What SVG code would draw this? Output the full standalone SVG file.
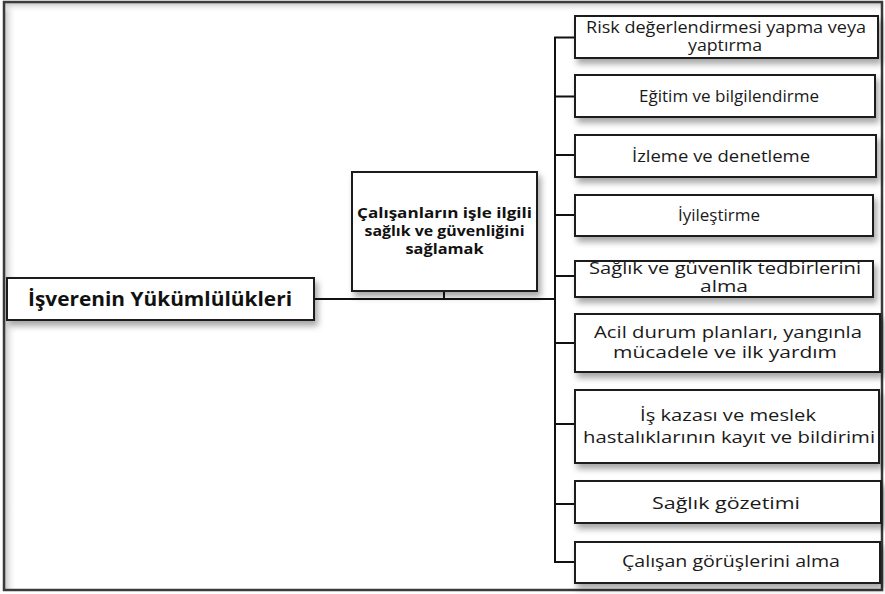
<svg xmlns="http://www.w3.org/2000/svg" width="885" height="594" viewBox="0 0 885 594">
<defs>
<filter id="sh" x="-10%" y="-20%" width="130%" height="160%">
<feDropShadow dx="3" dy="5" stdDeviation="3" flood-color="#000" flood-opacity="0.35"/>
</filter>
<linearGradient id="gl" x1="0" y1="0" x2="1" y2="0">
<stop offset="0" stop-color="#c8c8c8"/><stop offset="1" stop-color="#fff" stop-opacity="0"/>
</linearGradient>
<linearGradient id="gt" x1="0" y1="0" x2="0" y2="1">
<stop offset="0" stop-color="#c8c8c8"/><stop offset="1" stop-color="#fff" stop-opacity="0"/>
</linearGradient>
<style>
.box{fill:#fff;stroke:#1a1a1a;stroke-width:2;filter:url(#sh)}
.t{font-family:"Open Sans","Liberation Sans",sans-serif;font-size:16px;fill:#1a1a1a;text-anchor:middle}
.b{font-family:"Open Sans","Liberation Sans",sans-serif;font-weight:bold;fill:#111;text-anchor:middle}
.c{stroke:#111;stroke-width:2;fill:none}
</style>
</defs>
<rect x="0" y="0" width="885" height="594" fill="#fff"/>
<g id="frame">
<rect x="5" y="3" width="12" height="586" fill="url(#gl)"/>
<rect x="5" y="3" width="876" height="10" fill="url(#gt)"/>
<rect x="4" y="2" width="878" height="588" fill="none" stroke="#3a3a3a" stroke-width="2.5"/>
</g>
<g id="connectors">
<line class="c" x1="314" y1="299" x2="555" y2="299"/>
<line class="c" x1="444" y1="291" x2="444" y2="299"/>
<line class="c" x1="555" y1="37.5" x2="555" y2="562"/>
<line class="c" x1="554" y1="37.5" x2="575" y2="37.5"/>
<line class="c" x1="555" y1="96.5" x2="575" y2="96.5"/>
<line class="c" x1="555" y1="155" x2="575" y2="155"/>
<line class="c" x1="555" y1="215" x2="575" y2="215"/>
<line class="c" x1="555" y1="276" x2="575" y2="276"/>
<line class="c" x1="555" y1="343" x2="575" y2="343"/>
<line class="c" x1="555" y1="424" x2="575" y2="424"/>
<line class="c" x1="555" y1="504" x2="575" y2="504"/>
<line class="c" x1="554" y1="562" x2="575" y2="562"/>
</g>
<g id="root">
<rect class="box" x="7" y="278" width="307" height="42"/>
<text class="b" x="160" y="306" font-size="19" textLength="264" lengthAdjust="spacingAndGlyphs">İşverenin Yükümlülükleri</text>
</g>
<g id="mid">
<rect class="box" x="352" y="172" width="185" height="119"/>
<text class="b" font-size="15" x="444.5" y="218" textLength="175" lengthAdjust="spacingAndGlyphs">Çalışanların işle ilgili</text>
<text class="b" font-size="15" x="444.5" y="236" textLength="160" lengthAdjust="spacingAndGlyphs">sağlık ve güvenliğini</text>
<text class="b" font-size="15" x="444.5" y="254" textLength="78" lengthAdjust="spacingAndGlyphs">sağlamak</text>
</g>
<g id="n1">
<rect class="box" x="575" y="16" width="303" height="42"/>
<text class="t" x="726" y="33" textLength="280" lengthAdjust="spacingAndGlyphs">Risk değerlendirmesi yapma veya</text>
<text class="t" x="725" y="51" textLength="74" lengthAdjust="spacingAndGlyphs">yaptırma</text>
</g>
<g id="n2">
<rect class="box" x="575" y="75" width="300" height="42"/>
<text class="t" font-size="17" x="729" y="102" textLength="180" lengthAdjust="spacingAndGlyphs">Eğitim ve bilgilendirme</text>
</g>
<g id="n3">
<rect class="box" x="575" y="135" width="301" height="42"/>
<text class="t" font-size="17" x="721" y="162" textLength="178" lengthAdjust="spacingAndGlyphs">İzleme ve denetleme</text>
</g>
<g id="n4">
<rect class="box" x="575" y="195" width="298" height="41"/>
<text class="t" font-size="17" x="719" y="221" textLength="82" lengthAdjust="spacingAndGlyphs">İyileştirme</text>
</g>
<g id="n5">
<rect class="box" x="575" y="261" width="298" height="36"/>
<text class="t" x="725" y="274" textLength="272" lengthAdjust="spacingAndGlyphs">Sağlık ve  güvenlik tedbirlerini</text>
<text class="t" x="724" y="292" textLength="48" lengthAdjust="spacingAndGlyphs">alma</text>
</g>
<g id="n6">
<rect class="box" x="575" y="314" width="305" height="58"/>
<text class="t" font-size="17" x="728" y="338" textLength="268" lengthAdjust="spacingAndGlyphs">Acil durum planları, yangınla</text>
<text class="t" font-size="17" x="725" y="358" textLength="224" lengthAdjust="spacingAndGlyphs">mücadele ve ilk yardım</text>
</g>
<g id="n7">
<rect class="box" x="575" y="390" width="304" height="73"/>
<text class="t" font-size="17" x="728" y="421" textLength="176" lengthAdjust="spacingAndGlyphs">İş kazası ve  meslek</text>
<text class="t" font-size="17" x="729" y="443" textLength="292" lengthAdjust="spacingAndGlyphs">hastalıklarının kayıt ve bildirimi</text>
</g>
<g id="n8">
<rect class="box" x="575" y="481" width="306" height="42"/>
<text class="t" font-size="17" x="726" y="509" textLength="148" lengthAdjust="spacingAndGlyphs">Sağlık gözetimi</text>
</g>
<g id="n9">
<rect class="box" x="575" y="542" width="305" height="41"/>
<text class="t" font-size="17" x="731" y="567" textLength="218" lengthAdjust="spacingAndGlyphs">Çalışan görüşlerini alma</text>
</g>
</svg>
